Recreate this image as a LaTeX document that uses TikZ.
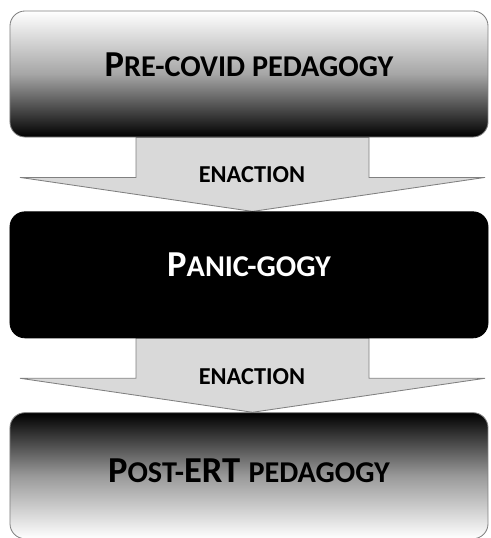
\documentclass[tikz,border=0pt]{standalone}
\usepackage{fontspec}
\setmainfont{Carlito}
\usetikzlibrary{positioning,calc,backgrounds}
\newcommand{\smc}[1]{{\fontsize{21.5}{25}\selectfont #1}}

\begin{document}
\begin{tikzpicture}[
  x=0.25mm, y=-0.25mm,
  box/.style={rounded corners=3.75mm, minimum width=119.5mm, minimum height=31.5mm, inner sep=0pt, line width=0.6pt},
  title/.style={font=\bfseries\fontsize{26}{30}\selectfont},
  flow/.style={draw=black!50, fill=black!15, line width=0.6pt},
  flowlabel/.style={font=\bfseries\fontsize{17.3}{20}\selectfont}
]

\useasboundingbox (0,0) rectangle (490,538);

% boxes (stacked)
\node[box, draw=black!50, top color=white, bottom color=black, middle color=black!35] (pre) at (249,74) {};
\node[box, below=18.5mm of pre, fill=black, draw=black] (panic) {};
\node[box, below=18.5mm of panic, draw=black!50, top color=black, bottom color=white, middle color=black!40] (post) {};

% titles
\node[title] (pretitle) at ($(pre.center)+(0,-9.5)$) {P\smc{RE-COVID PEDAGOGY}};
\node[title, text=white] (panictitle) at ($(panic.center)+(0,-10)$) {P\smc{ANIC-GOGY}};
\node[title] (posttitle) at ($(post.center)+(0,-4.5)$) {P\smc{OST-}ERT \smc{PEDAGOGY}};

% block arrows behind the boxes
\begin{scope}[on background layer]
\draw[flow] ($(pre.south)+(-113,0)$) -- ($(pre.south)+(-113,40)$) -- ($(pre.south)+(-229,40)$)
  -- ($(panic.north)+(3.5,0)$) -- ($(pre.south)+(236,40)$) -- ($(pre.south)+(120,40)$)
  -- ($(pre.south)+(120,0)$) -- cycle;
\draw[flow] ($(panic.south)+(-113,0)$) -- ($(panic.south)+(-113,40)$) -- ($(panic.south)+(-229,40)$)
  -- ($(post.north)+(3.5,0)$) -- ($(panic.south)+(236,40)$) -- ($(panic.south)+(120,40)$)
  -- ($(panic.south)+(120,0)$) -- cycle;
\end{scope}

% arrow labels
\node[flowlabel] (enact1) at ($(pre.south)+(3,37)$) {ENACTION};
\node[flowlabel] (enact2) at ($(panic.south)+(3,38.5)$) {ENACTION};

\end{tikzpicture}
\end{document}
